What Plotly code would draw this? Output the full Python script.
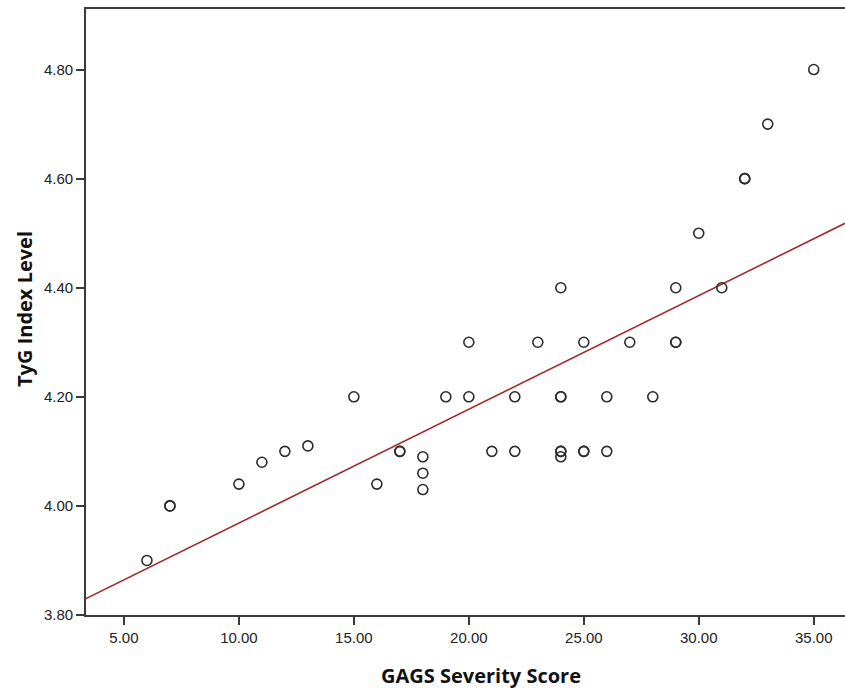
import numpy as np
import plotly.graph_objects as go

gags_score = [6, 7, 7, 10, 11, 12, 13, 15, 16, 17, 17, 18, 18, 18, 19, 20, 20, 21, 22, 22,
              23, 24, 24, 24, 24, 24, 24, 25, 25, 25, 26, 26, 27, 28, 29, 29, 29, 30, 31,
              32, 32, 33, 35]
tyg_index = [3.90, 4.00, 4.00, 4.04, 4.08, 4.10, 4.11, 4.20, 4.04, 4.10, 4.10, 4.09, 4.06, 4.03,
             4.20, 4.30, 4.20, 4.10, 4.20, 4.10,
             4.30, 4.40, 4.20, 4.20, 4.10, 4.10, 4.09, 4.30, 4.10, 4.10, 4.20, 4.10, 4.30, 4.20,
             4.40, 4.30, 4.30, 4.50, 4.40,
             4.60, 4.60, 4.70, 4.80]

x_ticks = [5, 10, 15, 20, 25, 30, 35]
x_tick_labels = ["5.00", "10.00", "15.00", "20.00", "25.00", "30.00", "35.00"]
y_ticks = [3.8, 4.0, 4.2, 4.4, 4.6, 4.8]
y_tick_labels = ["3.80", "4.00", "4.20", "4.40", "4.60", "4.80"]

x_range = [3.35, 36.36]
y_range = [3.8, 4.911]

slope, intercept = np.polyfit(gags_score, tyg_index, 1)
fit_x = np.array(x_range)
fit_y = intercept + slope * fit_x

fig = go.Figure()
fig.add_trace(go.Scatter(
    x=fit_x, y=fit_y, mode="lines",
    line=dict(color="#a3282d", width=1.6),
    hoverinfo="skip", showlegend=False, cliponaxis=True,
))
fig.add_trace(go.Scatter(
    x=gags_score, y=tyg_index, mode="markers",
    marker=dict(symbol="circle-open", size=10, color="#2b2b2b", line=dict(width=1.6)),
    showlegend=False,
))

axis_common = dict(
    showgrid=False, zeroline=False, showline=True, linecolor="#3a3a3a", linewidth=1.8,
    ticks="outside", ticklen=8, tickwidth=1.8, tickcolor="#3a3a3a",
    tickfont=dict(family="Liberation Sans, Arial, sans-serif", size=15, color="#222"),
)

title_font = dict(family="Open Sans, Lato, sans-serif", size=20, color="#111")
plot_w = 845 - 86
plot_h = 688 - 9 - 73

fig.update_layout(
    width=845, height=688,
    margin=dict(l=86, r=0, t=9, b=73),
    paper_bgcolor="white", plot_bgcolor="white",
    xaxis=dict(range=x_range, tickvals=x_ticks, ticktext=x_tick_labels, mirror=True, **axis_common),
    yaxis=dict(range=y_range, tickvals=y_ticks, ticktext=y_tick_labels, mirror=False, **axis_common),
    annotations=[
        dict(text="<b>GAGS Severity Score</b>", xref="paper", yref="paper",
             x=(481 - 86) / plot_w, y=(615 - 675) / plot_h, yanchor="middle", xanchor="center",
             showarrow=False, font=title_font),
        dict(text="<b>TyG Index Level</b>", xref="paper", yref="paper", textangle=-90,
             x=(24 - 86) / plot_w, y=(615 - 309) / plot_h, yanchor="middle", xanchor="center",
             showarrow=False, font=title_font),
    ],
)

fig.write_html("out.html", config={"displayModeBar": False},
               post_script="document.body.style.margin='0';document.body.style.overflow='hidden';")
